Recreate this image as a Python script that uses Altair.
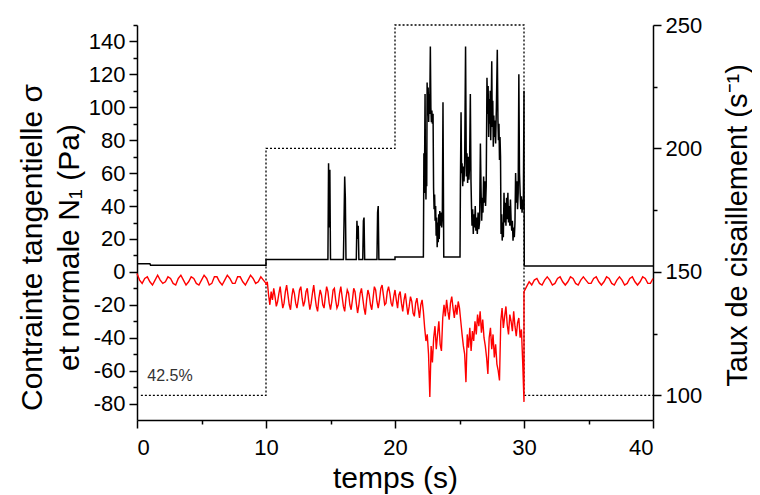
import altair as alt
import numpy as np
import pandas as pd

FONT = "Liberation Sans"

# ---------------- data ----------------
# shear rate (right axis, s^-1), dotted step profile
rate_t = [0.3, 10, 10, 20, 20, 30, 30, 40]
rate_v = [100, 100, 200, 200, 250, 250, 100, 100]

# tangential stress sigma (Pa): plateaus and isolated spikes
sigma_low = [
    (0, 5), (1.0, 5), (1.05, 4), (10.0, 4), (10.0, 7.5),
    (14.8, 7.5), (14.85, 66), (14.9, 27), (14.95, 62), (15.0, 7.5),
    (16.0, 7.5), (16.05, 31), (16.1, 58), (16.15, 45), (16.2, 7.5),
    (17.0, 7.5), (17.05, 31), (17.1, 20), (17.15, 28), (17.2, 7.5),
    (17.5, 7.5), (17.55, 31), (17.6, 33), (17.65, 7.5),
    (18.6, 7.5), (18.65, 36), (18.7, 40), (18.75, 7.5),
    (20.0, 7.5), (20.0, 9),
]
# tangential stress sigma (Pa): strongly fluctuating part 22-30 s, then rest
sigma_burst = [
    (22.20, 9), (22.24, 72), (22.28, 48), (22.33, 108), (22.36, 60), (22.40, 44),
    (22.43, 70), (22.46, 52), (22.49, 115), (22.53, 95), (22.57, 112), (22.61, 91),
    (22.65, 108), (22.69, 96), (22.74, 137), (22.78, 100), (22.82, 91), (22.86, 98),
    (22.90, 90), (22.95, 96), (22.99, 51), (23.03, 38), (23.07, 47), (23.11, 31),
    (23.15, 40), (23.19, 22), (23.23, 33), (23.27, 15), (23.31, 30), (23.35, 18),
    (23.39, 35), (23.43, 20), (23.47, 37), (23.52, 28), (23.57, 36), (23.62, 27),
    (23.67, 34), (23.72, 103), (23.78, 9), (25.04, 9), (25.07, 52), (25.12, 97),
    (25.16, 60), (25.20, 66), (25.25, 52), (25.30, 64), (25.35, 55), (25.40, 66),
    (25.47, 137), (25.53, 58), (25.58, 72), (25.63, 54), (25.68, 70), (25.73, 56),
    (25.78, 64), (25.84, 108), (25.89, 55), (25.93, 40), (25.97, 28), (26.02, 38),
    (26.07, 23), (26.12, 35), (26.17, 27), (26.22, 40), (26.27, 25), (26.32, 33),
    (26.38, 23), (26.44, 36), (26.50, 26), (26.56, 31), (26.62, 78), (26.67, 50),
    (26.72, 31), (26.77, 45), (26.82, 36), (26.87, 58), (26.92, 42), (26.97, 55),
    (27.02, 40), (27.07, 52), (27.13, 118), (27.18, 96), (27.22, 113), (27.26, 82),
    (27.30, 105), (27.34, 90), (27.38, 110), (27.42, 80), (27.46, 100), (27.50, 128),
    (27.54, 88), (27.58, 104), (27.62, 76), (27.66, 95), (27.70, 82), (27.74, 92),
    (27.80, 78), (27.86, 100), (27.93, 135), (27.98, 92), (28.02, 80), (28.06, 90),
    (28.10, 68), (28.14, 82), (28.18, 70), (28.22, 23), (28.27, 35), (28.31, 19),
    (28.36, 30), (28.40, 21), (28.45, 48), (28.50, 30), (28.55, 42), (28.60, 28),
    (28.65, 45), (28.70, 32), (28.75, 48), (28.80, 30), (28.85, 40), (28.90, 28),
    (28.95, 44), (29.00, 31), (29.05, 25), (29.10, 31), (29.15, 19), (29.20, 27),
    (29.25, 21), (29.30, 30), (29.35, 60), (29.40, 42), (29.45, 55), (29.50, 38),
    (29.55, 48), (29.60, 120), (29.65, 60), (29.70, 48), (29.75, 38), (29.80, 46),
    (29.85, 36), (29.90, 44), (29.95, 38), (30.00, 110), (30.02, 3.5), (40.0, 3.5),
]

# normal stress N1 (Pa), sampled segments: (start time, step, values)
n1_0_10 = [-1, -5, -7, -4, -3, -6, -8, -5, -2, -5,
           -7, -6, -3, -4, -7, -8, -4, -2, -5, -8,
           -6, -3, -4, -7, -8, -5, -2, -4, -8, -7,
           -3, -3, -6, -8, -5, -2, -4, -7, -7, -3,
           -3, -6, -8, -5, -2, -4, -7, -6, -3, -5,
           -7]
n1_10_20 = [-8, -6, -14, -20, -12, -17, -10, -15, -21, -18,
            -13, -9, -16, -22, -19, -12, -8, -14, -20, -23,
            -15, -10, -13, -19, -22, -17, -11, -9, -16, -21,
            -18, -12, -10, -17, -23, -19, -13, -8, -15, -21,
            -24, -16, -11, -14, -20, -22, -15, -9, -12, -19,
            -23, -18, -11, -10, -17, -22, -20, -13, -9, -15,
            -21, -24, -16, -11, -13, -20, -23, -17, -10, -12,
            -19, -25, -20, -13, -10, -16, -22, -26, -17, -11,
            -14, -20, -23, -16, -9, -11, -18, -22, -17, -10,
            -8, -14, -20, -19, -12, -9, -13, -19, -21, -15,
            -11]
n1_20_30 = [-17, -22, -14, -12, -19, -24, -17, -13, -20, -26,
            -21, -15, -18, -25, -27, -19, -16, -22, -28, -20,
            -17, -24, -34, -42, -38, -50, -76, -45, -55, -40,
            -33, -47, -38, -30, -44, -48, -28, -20, -27, -17,
            -24, -29, -19, -15, -22, -28, -20, -26, -18, -22,
            -30, -38, -45, -50, -67, -38, -46, -34, -48, -36,
            -42, -30, -38, -26, -33, -24, -37, -29, -40, -45,
            -52, -62, -40, -34, -47, -38, -52, -44, -56, -60,
            -66, -30, -22, -34, -27, -21, -32, -38, -26, -30,
            -36, -24, -33, -39, -31, -28, -40, -35, -55, -79]
n1_30_40 = [-12, -9, -6, -8, -5, -4, -7, -8, -5, -3,
            -5, -8, -7, -4, -3, -6, -8, -6, -3, -4,
            -7, -8, -5, -3, -5, -7, -7, -4, -3, -6,
            -8, -6, -3, -4, -7, -8, -5, -3, -5, -8,
            -7, -4, -3, -6, -8, -6, -3, -4, -7, -7,
            -4]
n1_segments = [(0.0, 0.2, n1_0_10), (10.0, 0.1, n1_10_20),
               (20.1, 0.1, n1_20_30), (30.0, 0.2, n1_30_40)]

label_text = ["42.5%"]
label_t = [0.8]
label_v = [-63]

# ---------------- tables ----------------
sig_pts = sigma_low + sigma_burst
df_sigma = pd.DataFrame({"t": [p[0] for p in sig_pts], "v": [p[1] for p in sig_pts]})
df_sigma["i"] = range(len(df_sigma))

n1_t, n1_v = [], []
for start, step, vals in n1_segments:
    n1_t += list(np.round(start + step * np.arange(len(vals)), 3))
    n1_v += vals
df_n1 = pd.DataFrame({"t": n1_t, "v": n1_v})
df_n1["i"] = range(len(df_n1))

df_rate = pd.DataFrame({"t": rate_t, "v": rate_v})
df_rate["i"] = range(len(df_rate))

df_label = pd.DataFrame({"t": label_t, "v": label_v, "txt": label_text})

# ---------------- axes ----------------
common = dict(grid=False, labelFont=FONT, labelFontSize=22, labelColor="black",
              titleFont=FONT, titleFontSize=30, titleFontWeight="normal", titleColor="black",
              domainColor="black", domainWidth=1.5, tickColor="black", tickWidth=1.5)

x_axis = alt.Axis(
    values=list(range(0, 41, 5)),
    labelExpr="datum.value % 10 === 0 ? datum.label : ''",
    tickSize={"condition": {"test": "datum.value % 10 === 0", "value": 8}, "value": 4},
    labelPadding=9, title="temps (s)", titlePadding=5, **common)

left_axis = alt.Axis(
    orient="left",
    values=list(range(-80, 151, 10)),
    labelExpr="datum.value % 20 === 0 ? (datum.value < 0 ? '-' + abs(datum.value) : '' + datum.value) : ''",
    tickSize={"condition": {"test": "datum.value % 20 === 0", "value": 8}, "value": 4},
    labelPadding=4, title=["Contrainte tangentielle σ", "et normale N₁ (Pa)"],
    titleLineHeight=37, titlePadding=4, titleY=222, **common)

right_common = dict(common)
right_common["titleFontSize"] = 29
right_axis = alt.Axis(
    orient="right",
    values=list(range(100, 251, 25)),
    labelExpr="datum.value % 50 === 0 ? datum.label : ''",
    tickSize={"condition": {"test": "datum.value % 50 === 0", "value": 8}, "value": 4},
    labelPadding=4, title="Taux de cisaillement (s⁻¹)", titleAngle=270,
    titleBaseline="middle", titleAlign="center", titleX=84, titleY=200, **right_common)

x_enc = alt.X("t:Q", scale=alt.Scale(domain=[0, 40], nice=False, zero=False), axis=x_axis)
y_left = alt.Y("v:Q", scale=alt.Scale(domain=[-90, 150], nice=False, zero=False), axis=left_axis)
y_right = alt.Y("v:Q", scale=alt.Scale(domain=[90, 250], nice=False, zero=False), axis=right_axis)

rate_line = alt.Chart(df_rate).mark_line(color="black", strokeWidth=1.3, strokeDash=[2, 2]).encode(
    x=x_enc, y=y_right, order=alt.Order("i:Q"))

sigma_line = alt.Chart(df_sigma).mark_line(color="black", strokeWidth=1.5).encode(
    x=x_enc, y=y_left, order=alt.Order("i:Q"))

n1_line = alt.Chart(df_n1).mark_line(color="#ff0000", strokeWidth=1.4).encode(
    x=x_enc, y=y_left, order=alt.Order("i:Q"))

label = alt.Chart(df_label).mark_text(align="left", baseline="middle", font=FONT,
                                      fontSize=16, color="#333333").encode(
    x=x_enc, y=y_left, text="txt:N")

left_layer = alt.layer(sigma_line, n1_line, label)

chart = alt.layer(rate_line, left_layer).resolve_scale(y="independent").properties(
    width=516, height=395,
    padding={"left": 129, "top": 17, "right": 99, "bottom": 74},
    autosize=alt.AutoSizeParams(type="none"),
).configure_view(strokeWidth=0)

chart.save("out.html", embed_options={"renderer": "svg", "actions": False})
